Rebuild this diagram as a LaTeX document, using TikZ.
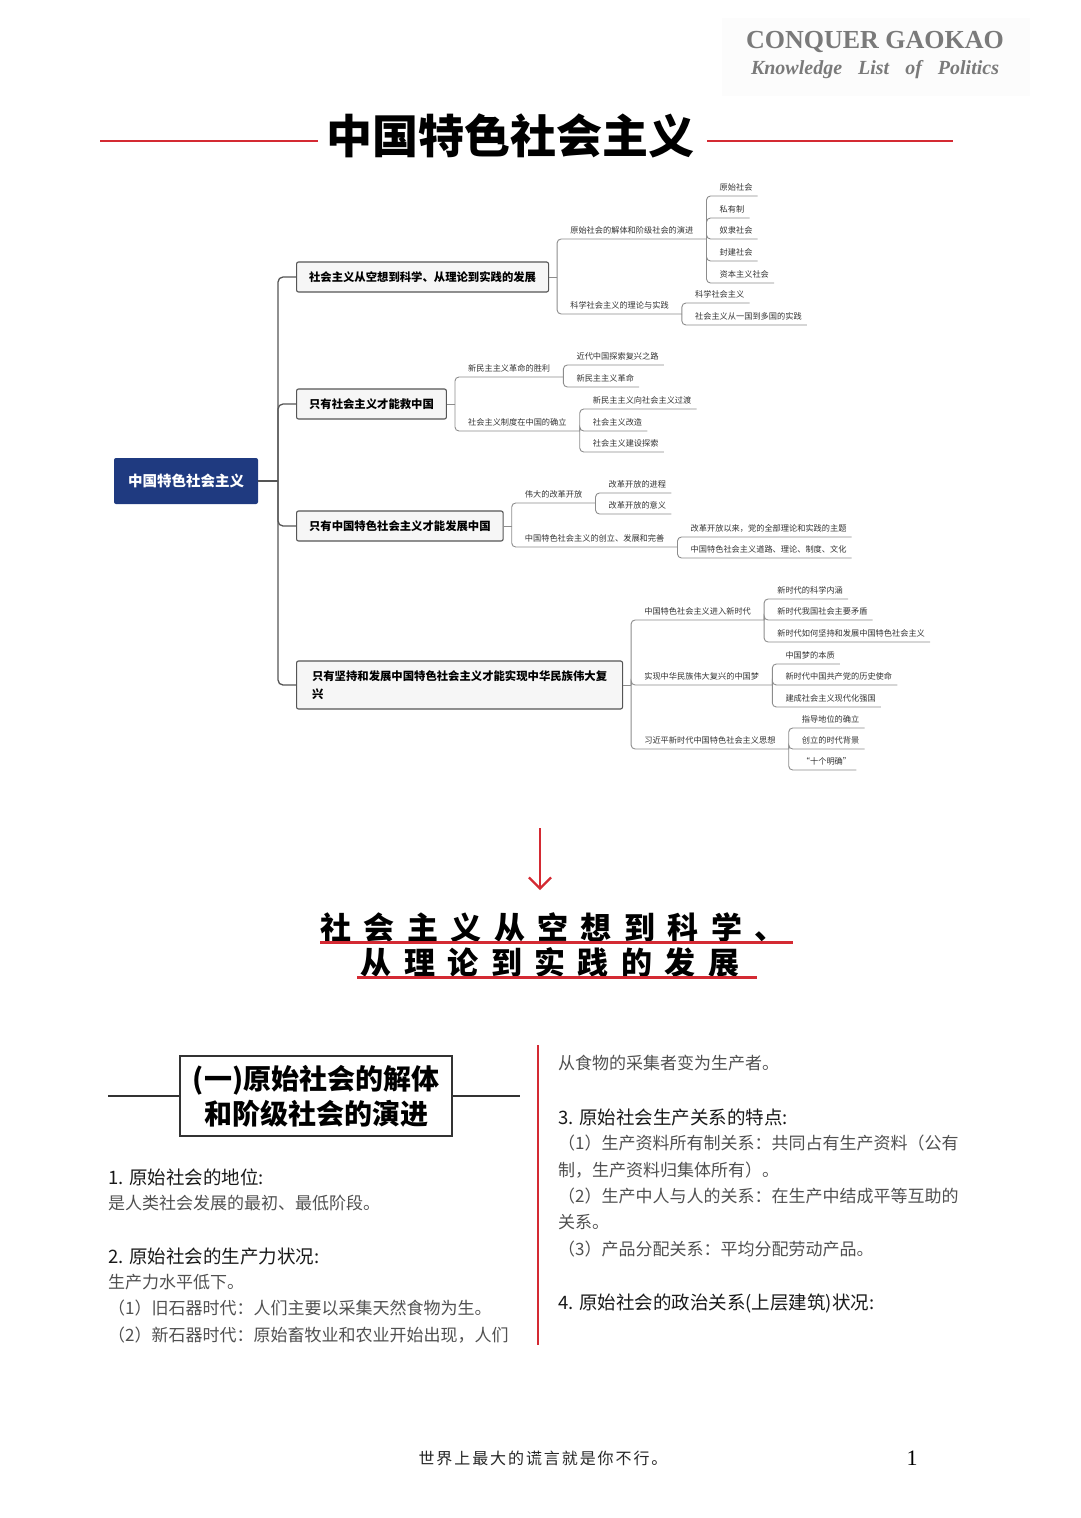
\documentclass[tikz,border=0pt]{standalone}
\usepackage{fontspec}
\usepackage{xcolor}
\usepackage{tikz}
\usetikzlibrary{positioning,arrows.meta,calc}
\setmainfont{Liberation Serif}
\newfontfamily\cjk{Noto Sans CJK SC}
\newfontfamily\cjkwide[LetterSpace=40]{Noto Sans CJK SC}
\newfontfamily\cjkfoot[LetterSpace=12]{Noto Sans CJK SC}
\definecolor{navy}{HTML}{1F3A80}
\definecolor{crimson}{HTML}{D42A33}
\definecolor{twig}{HTML}{8C8C8C}
\definecolor{boxline}{HTML}{555555}
\definecolor{boxfill}{HTML}{F6F6F6}
\definecolor{bodytxt}{HTML}{505050}
\definecolor{headgray}{HTML}{7A7A7A}
\newcommand{\leafsize}{\fontsize{8.2}{9.6}\selectfont}
\newcommand{\bodysize}{\fontsize{17}{20}\selectfont}
\newcommand{\headsize}{\fontsize{18.5}{22}\selectfont}

\begin{document}
\begin{tikzpicture}[x=1pt,y=-1pt,
  root/.style={fill=navy,text=white,rounded corners=2pt,font=\cjk\bfseries\fontsize{14.5}{16}\selectfont,
    minimum width=144pt,minimum height=46pt,inner sep=0pt},
  topic/.style={draw=boxline,fill=boxfill,line width=1.1pt,rounded corners=2pt,anchor=west,align=left,
    font=\cjk\bfseries\fontsize{11.35}{18}\selectfont,inner xsep=12.5pt,minimum height=30pt},
  leaf/.style={anchor=south west,font=\cjk\leafsize,text=black!80,inner xsep=0pt,inner ysep=4pt,
    text height=6pt,text depth=1.2pt,execute at begin node={\hspace*{13pt}},execute at end node={\hspace*{#1}}},
  leaf/.default=5pt,
  stem/.style={draw=boxline,line width=1.3pt,rounded corners=5pt},
  branch/.style={draw=twig,line width=0.9pt,rounded corners=4pt},
  body/.style={anchor=west,inner sep=0pt,font=\cjk\bodysize,text=bodytxt},
  heading/.style={anchor=west,inner sep=0pt,font=\cjk\headsize,text=black!90},
  redrule/.style={draw=crimson,line width=1.6pt}]
  \useasboundingbox (0,0) rectangle (1080,1518);

  %% header
  \fill[gray!2] (722,18) rectangle (1030,96);
  \node[text=headgray,font=\bfseries\fontsize{26}{28}\selectfont] (brand) at (875,42) {CONQUER GAOKAO};
  \node[text=headgray,font=\bfseries\itshape\fontsize{20}{22}\selectfont] (slogan) at (875,70)
    {Knowledge\hspace{16pt}List\hspace{16pt}of\hspace{16pt}Politics};

  %% title with rules
  \node[font=\cjk\bfseries\fontsize{46}{48}\selectfont] (title) at (510,136) {中国特色社会主义};
  \draw[redrule] (100,141) -- (318,141);
  \draw[redrule] (707,141) -- (953,141);

  %% mind map: root and topics
  \node[root] (core) at (186,481) {中国特色社会主义};
  \node[topic] (t1) at (296,277) {社会主义从空想到科学、从理论到实践的发展};
  \node[topic] (t2) at (296,404) {只有社会主义才能救中国};
  \node[topic] (t3) at (296,526) {只有中国特色社会主义才能发展中国};
  \node[topic,minimum height=48pt,minimum width=326pt] (t4) at (296,685)
    {只有坚持和发展中国特色社会主义才能实现中华民族伟大复\\兴};
  \coordinate (hub) at (278,481);
  \draw[stem] (core.east) -- (hub);
  \foreach \t in {t1,t2,t3,t4}
    \draw[stem] (hub) |- (\t.west);
  \foreach \t/\k in {t1/j1,t2/j2,t3/j3,t4/j4}{
    \coordinate (\k) at ($(\t.east)+(8,0)$);
    \draw[branch] (\t.east) -- (\k);
  }

  %% second level
  \foreach \src/\nm/\yy/\txt in {
    j1/s1a/239/原始社会的解体和阶级社会的演进,
    j1/s1b/314/科学社会主义的理论与实践,
    j2/s2a/377/新民主主义革命的胜利,
    j2/s2b/431/社会主义制度在中国的确立,
    j3/s3a/503/伟大的改革开放,
    j3/s3b/547/中国特色社会主义的创立、发展和完善,
    j4/s4a/620/中国特色社会主义进入新时代,
    j4/s4b/685/实现中华民族伟大复兴的中国梦,
    j4/s4c/749/习近平新时代中国特色社会主义思想}{
    \node[leaf=13pt] (\nm) at (\src |- 0,\yy) {\txt};
    \draw[branch] (\src) |- (\nm.south east);
  }

  %% third level
  \foreach \src/\nm/\yy/\txt in {
    s1a/u1/196/原始社会, s1a/u2/218/私有制, s1a/u3/239/奴隶社会,
    s1a/u4/261/封建社会, s1a/u5/283/资本主义社会,
    s1b/u6/303/科学社会主义, s1b/u7/325/社会主义从一国到多国的实践,
    s2a/v1/365/近代中国探索复兴之路, s2a/v2/387/新民主主义革命,
    s2b/v3/409/新民主主义向社会主义过渡, s2b/v4/431/社会主义改造, s2b/v5/452/社会主义建设探索,
    s3a/w1/493/改革开放的进程, s3a/w2/514/改革开放的意义,
    s3b/w3/537/改革开放以来，党的全部理论和实践的主题,
    s3b/w4/558/中国特色社会主义道路、理论、制度、文化,
    s4a/z1/599/新时代的科学内涵, s4a/z2/620/新时代我国社会主要矛盾,
    s4a/z3/642/新时代如何坚持和发展中国特色社会主义,
    s4b/z4/664/中国梦的本质, s4b/z5/685/新时代中国共产党的历史使命, s4b/z6/707/建成社会主义现代化强国,
    s4c/z7/728/指导地位的确立, s4c/z8/749/创立的时代背景, s4c/z9/770/“十个明确”}{
    \node[leaf] (\nm) at (\src.south east |- 0,\yy) {\txt};
    \draw[branch] (\src.south east) |- (\nm.south east);
  }

  %% arrow down to section title
  \coordinate (drop) at (540,828);
  \coordinate (land) at (540,890);
  \draw[crimson,line width=2.2pt,-{Straight Barb[length=11pt,width=22pt]}] (drop) -- (land);
  \node[font=\cjkwide\bfseries\fontsize{31}{33}\selectfont] (sec1) at (553,928) {社会主义从空想到科学、};
  \node[font=\cjkwide\bfseries\fontsize{31}{33}\selectfont] (sec2) at (550,963) {从理论到实践的发展};
  \draw[crimson,line width=3pt] (320,942) -- (793,942);
  \draw[crimson,line width=3pt] (357,977) -- (757,977);

  %% part box
  \node[draw=black!80,line width=1.5pt,font=\cjk\bfseries\fontsize{28}{35}\selectfont,align=center,
    minimum width=272pt,minimum height=80pt,inner sep=0pt] (part) at (316,1096)
    {(一)原始社会的解体\\和阶级社会的演进};
  \coordinate (ruleL) at (108,1096);
  \coordinate (ruleR) at (520,1096);
  \draw[black!80,line width=1.5pt] (ruleL) -- (part.west);
  \draw[black!80,line width=1.5pt] (part.east) -- (ruleR);

  %% left column
  \node[heading] (h1) at (108,1177) {1. 原始社会的地位:};
  \node[heading] (h2) at (108,1256) {2. 原始社会的生产力状况:};
  \foreach \nm/\yy/\txt in {
    b1/1203/是人类社会发展的最初、最低阶段。,
    b2/1282/生产力水平低下。,
    b3/1308/（1）旧石器时代：人们主要以采集天然食物为生。,
    b4/1335/（2）新石器时代：原始畜牧业和农业开始出现，人们}
    \node[body] (\nm) at (108,\yy) {\txt};

  %% divider
  \draw[crimson,line width=1.8pt] (538,1045) -- (538,1345);

  %% right column
  \node[heading] (h3) at (558,1117) {3. 原始社会生产关系的特点:};
  \node[heading] (h4) at (558,1303) {4. 原始社会的政治关系(上层建筑)状况:};
  \foreach \nm/\yy/\txt in {
    c1/1063/从食物的采集者变为生产者。,
    c2/1143/（1）生产资料所有制关系：共同占有生产资料（公有,
    c3/1170/制，生产资料归集体所有）。,
    c4/1196/（2）生产中人与人的关系：在生产中结成平等互助的,
    c5/1222/关系。,
    c6/1249/（3）产品分配关系：平均分配劳动产品。}
    \node[body] (\nm) at (558,\yy) {\txt};

  %% footer
  \node[font=\cjkfoot\fontsize{16}{18}\selectfont,text=black!85] (quip) at (543,1458) {世界上最大的谎言就是你不行。};
  \node[font=\fontsize{22}{24}\selectfont] (pageno) at (912,1458) {1};
\end{tikzpicture}
\end{document}
